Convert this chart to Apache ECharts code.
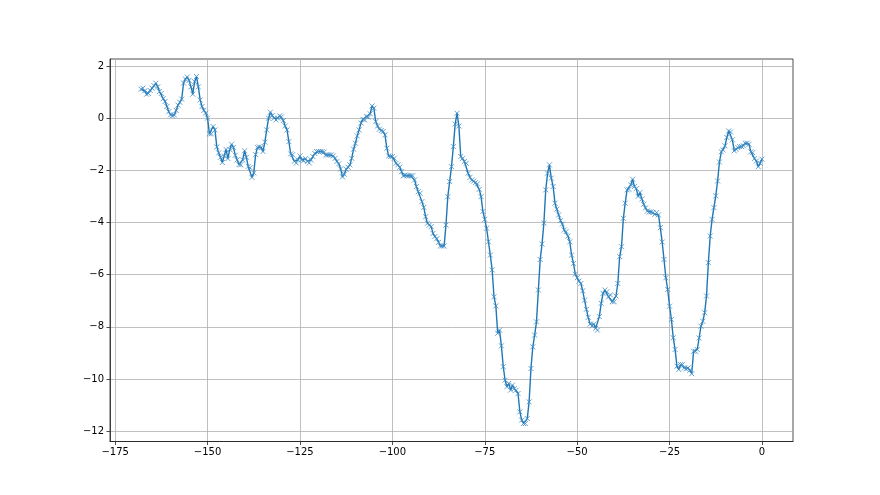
<!DOCTYPE html>
<html><head><meta charset="utf-8">
<script src="https://cdn.jsdelivr.net/npm/echarts@6/dist/echarts.min.js"></script>
<style>html,body{margin:0;padding:0;background:#fff}#c{width:880px;height:495px}</style>
</head><body><div id="c"></div>
<script>
// x positions: regular 0.5 steps from -168 to 0
const xStart = -168;
const xStep = 0.5;
// values, in x order
const segA = [1.11,1.15,1.05,0.92,0.95,1.06,1.15,1.25,1.34,1.2,1.02,0.95,0.75,0.64,0.45,0.25,0.13,0.09,0.12,0.3,0.5,0.61,0.73,1.35,1.5,1.58,1.45,1.2,0.92,1.4,1.6,1.2,0.7,0.45,0.3,0.2,0.0,-0.6,-0.6,-0.32,-0.45,-1.1,-1.33,-1.5,-1.7,-1.45,-1.2,-1.55,-1.2,-1.0,-1.12,-1.42,-1.6,-1.78];
const segB = [-1.79,-1.6,-1.25,-1.5,-1.85,-1.9,-2.27,-2.1,-1.4,-1.12,-1.1,-1.12,-1.28,-0.92,-0.45,0.0,0.23,0.1,0.0,-0.07,0.0,0.09,0.05,-0.09,-0.3,-0.45,-0.9,-1.37,-1.4,-1.65,-1.72,-1.6,-1.45,-1.6,-1.63,-1.55,-1.66,-1.72,-1.6,-1.47,-1.35,-1.28,-1.28,-1.28,-1.28,-1.3,-1.41,-1.41,-1.41,-1.41,-1.45,-1.54,-1.66,-1.75,-1.95,-2.25,-2.15];
const segC = [-1.96,-1.88,-1.79,-1.54,-1.19,-0.96,-0.68,-0.45,-0.19,-0.04,-0.07,0.06,0.04,0.17,0.47,0.38,-0.13,-0.3,-0.42,-0.47,-0.51,-0.64,-1.15,-1.45,-1.47,-1.47,-1.54,-1.73,-1.79,-1.88,-2.05,-2.21,-2.18,-2.21,-2.21,-2.21,-2.21,-2.37,-2.62,-2.82,-2.88,-3.2,-3.42,-3.78,-4.03,-4.1,-4.16,-4.42,-4.54,-4.62,-4.76,-4.9,-4.9,-4.9];
const segD = [-4.1,-3.01,-2.43,-1.86,-1.09,-0.22,0.19,-0.3,-1.47,-1.54,-1.66,-1.73,-2.11,-2.27,-2.37,-2.41,-2.47,-2.52,-2.73,-3.01,-3.58,-3.88,-4.22,-4.74,-5.25,-5.82,-6.85,-7.2,-8.25,-8.13,-8.73,-9.53,-10.05,-10.3,-10.17,-10.43,-10.24,-10.37,-10.43,-10.56,-11.26,-11.58,-11.71,-11.71,-11.52,-10.88,-9.6,-8.77,-8.32,-7.81,-6.59,-5.42,-4.82,-4.02];
const segE = [-2.75,-2.11,-1.79,-2.3,-2.62,-3.26,-3.49,-3.71,-3.93,-4.06,-4.29,-4.35,-4.52,-4.74,-5.25,-5.57,-5.98,-6.12,-6.25,-6.34,-6.62,-6.98,-7.33,-7.64,-7.9,-7.97,-7.9,-8.06,-8.13,-7.61,-7.1,-6.72,-6.59,-6.66,-6.85,-6.78,-7.04,-7.04,-6.82,-6.34,-5.31,-4.93,-3.84,-3.26,-2.75,-2.73,-2.56,-2.34,-2.62];
const segF = [-2.7,-3.0,-2.85,-3.1,-3.3,-3.44,-3.56,-3.6,-3.59,-3.62,-3.69,-3.62,-3.71,-4.2,-4.75,-5.42,-6.12,-6.57,-7.21,-7.72,-8.42,-8.87,-9.51,-9.64,-9.45,-9.45,-9.58,-9.62,-9.58,-9.67,-9.8,-8.94,-8.94,-8.87,-8.43,-7.98,-7.79,-7.46,-6.82,-5.54,-4.52,-3.88,-3.43,-2.98,-2.41,-1.68,-1.29,-1.22,-1.06,-0.74,-0.49,-0.53,-0.83,-1.25,-1.19,-1.13,-1.09,-1.09,-1.06,-0.96,-0.96,-1.0,-1.29,-1.32,-1.55,-1.64,-1.86,-1.73,-1.57];
const xTicks = [-175, -150, -125, -100, -75, -50, -25, 0];
const yTicks = [-12, -10, -8, -6, -4, -2, 0, 2];

const values = segA.concat(segB, segC, segD, segE, segF);
const data = values.map((v, i) => [xStart + i * xStep, v]);
const fmt = v => String(v).replace('-', '\u2212');
const font = 'DejaVu Sans';

const chart = echarts.init(document.getElementById('c'), null, {renderer: 'canvas'});
chart.setOption({
  animation: false,
  backgroundColor: '#fff',
  grid: {left: 110, right: 87, top: 59, bottom: 53.5, show: true, borderColor: '#222', borderWidth: 0.8, backgroundColor: 'transparent'},
  xAxis: {
    type: 'value', min: -176.4, max: 8.4,
    axisLine: {show: true, onZero: false, lineStyle: {color: '#222', width: 0.8}},
    axisTick: {show: true, customValues: xTicks, length: 3.5, lineStyle: {color: '#222', width: 0.8}},
    axisLabel: {customValues: xTicks, formatter: fmt, fontFamily: font, fontSize: 10, color: '#000', margin: 6},
    splitLine: {show: true, lineStyle: {color: '#b0b0b0', width: 0.8}}
  },
  yAxis: {
    type: 'value', min: -12.4, max: 2.27,
    axisLine: {show: true, onZero: false, lineStyle: {color: '#222', width: 0.8}},
    axisTick: {show: true, customValues: yTicks, length: 3.5, lineStyle: {color: '#222', width: 0.8}},
    axisLabel: {customValues: yTicks, formatter: fmt, fontFamily: font, fontSize: 10, color: '#000', margin: 6},
    splitLine: {show: true, lineStyle: {color: '#b0b0b0', width: 0.8}}
  },
  series: [{
    type: 'line',
    data: data,
    showAllSymbol: true,
    symbol: 'path://M0,0L10,10M10,0L0,10',
    symbolSize: 5,
    itemStyle: {color: '#1f77b4', borderColor: '#3d8cc4', borderWidth: 0.8},
    lineStyle: {color: '#1f77b4', width: 1.4},
    silent: true
  }]
});
</script>
</body></html>
